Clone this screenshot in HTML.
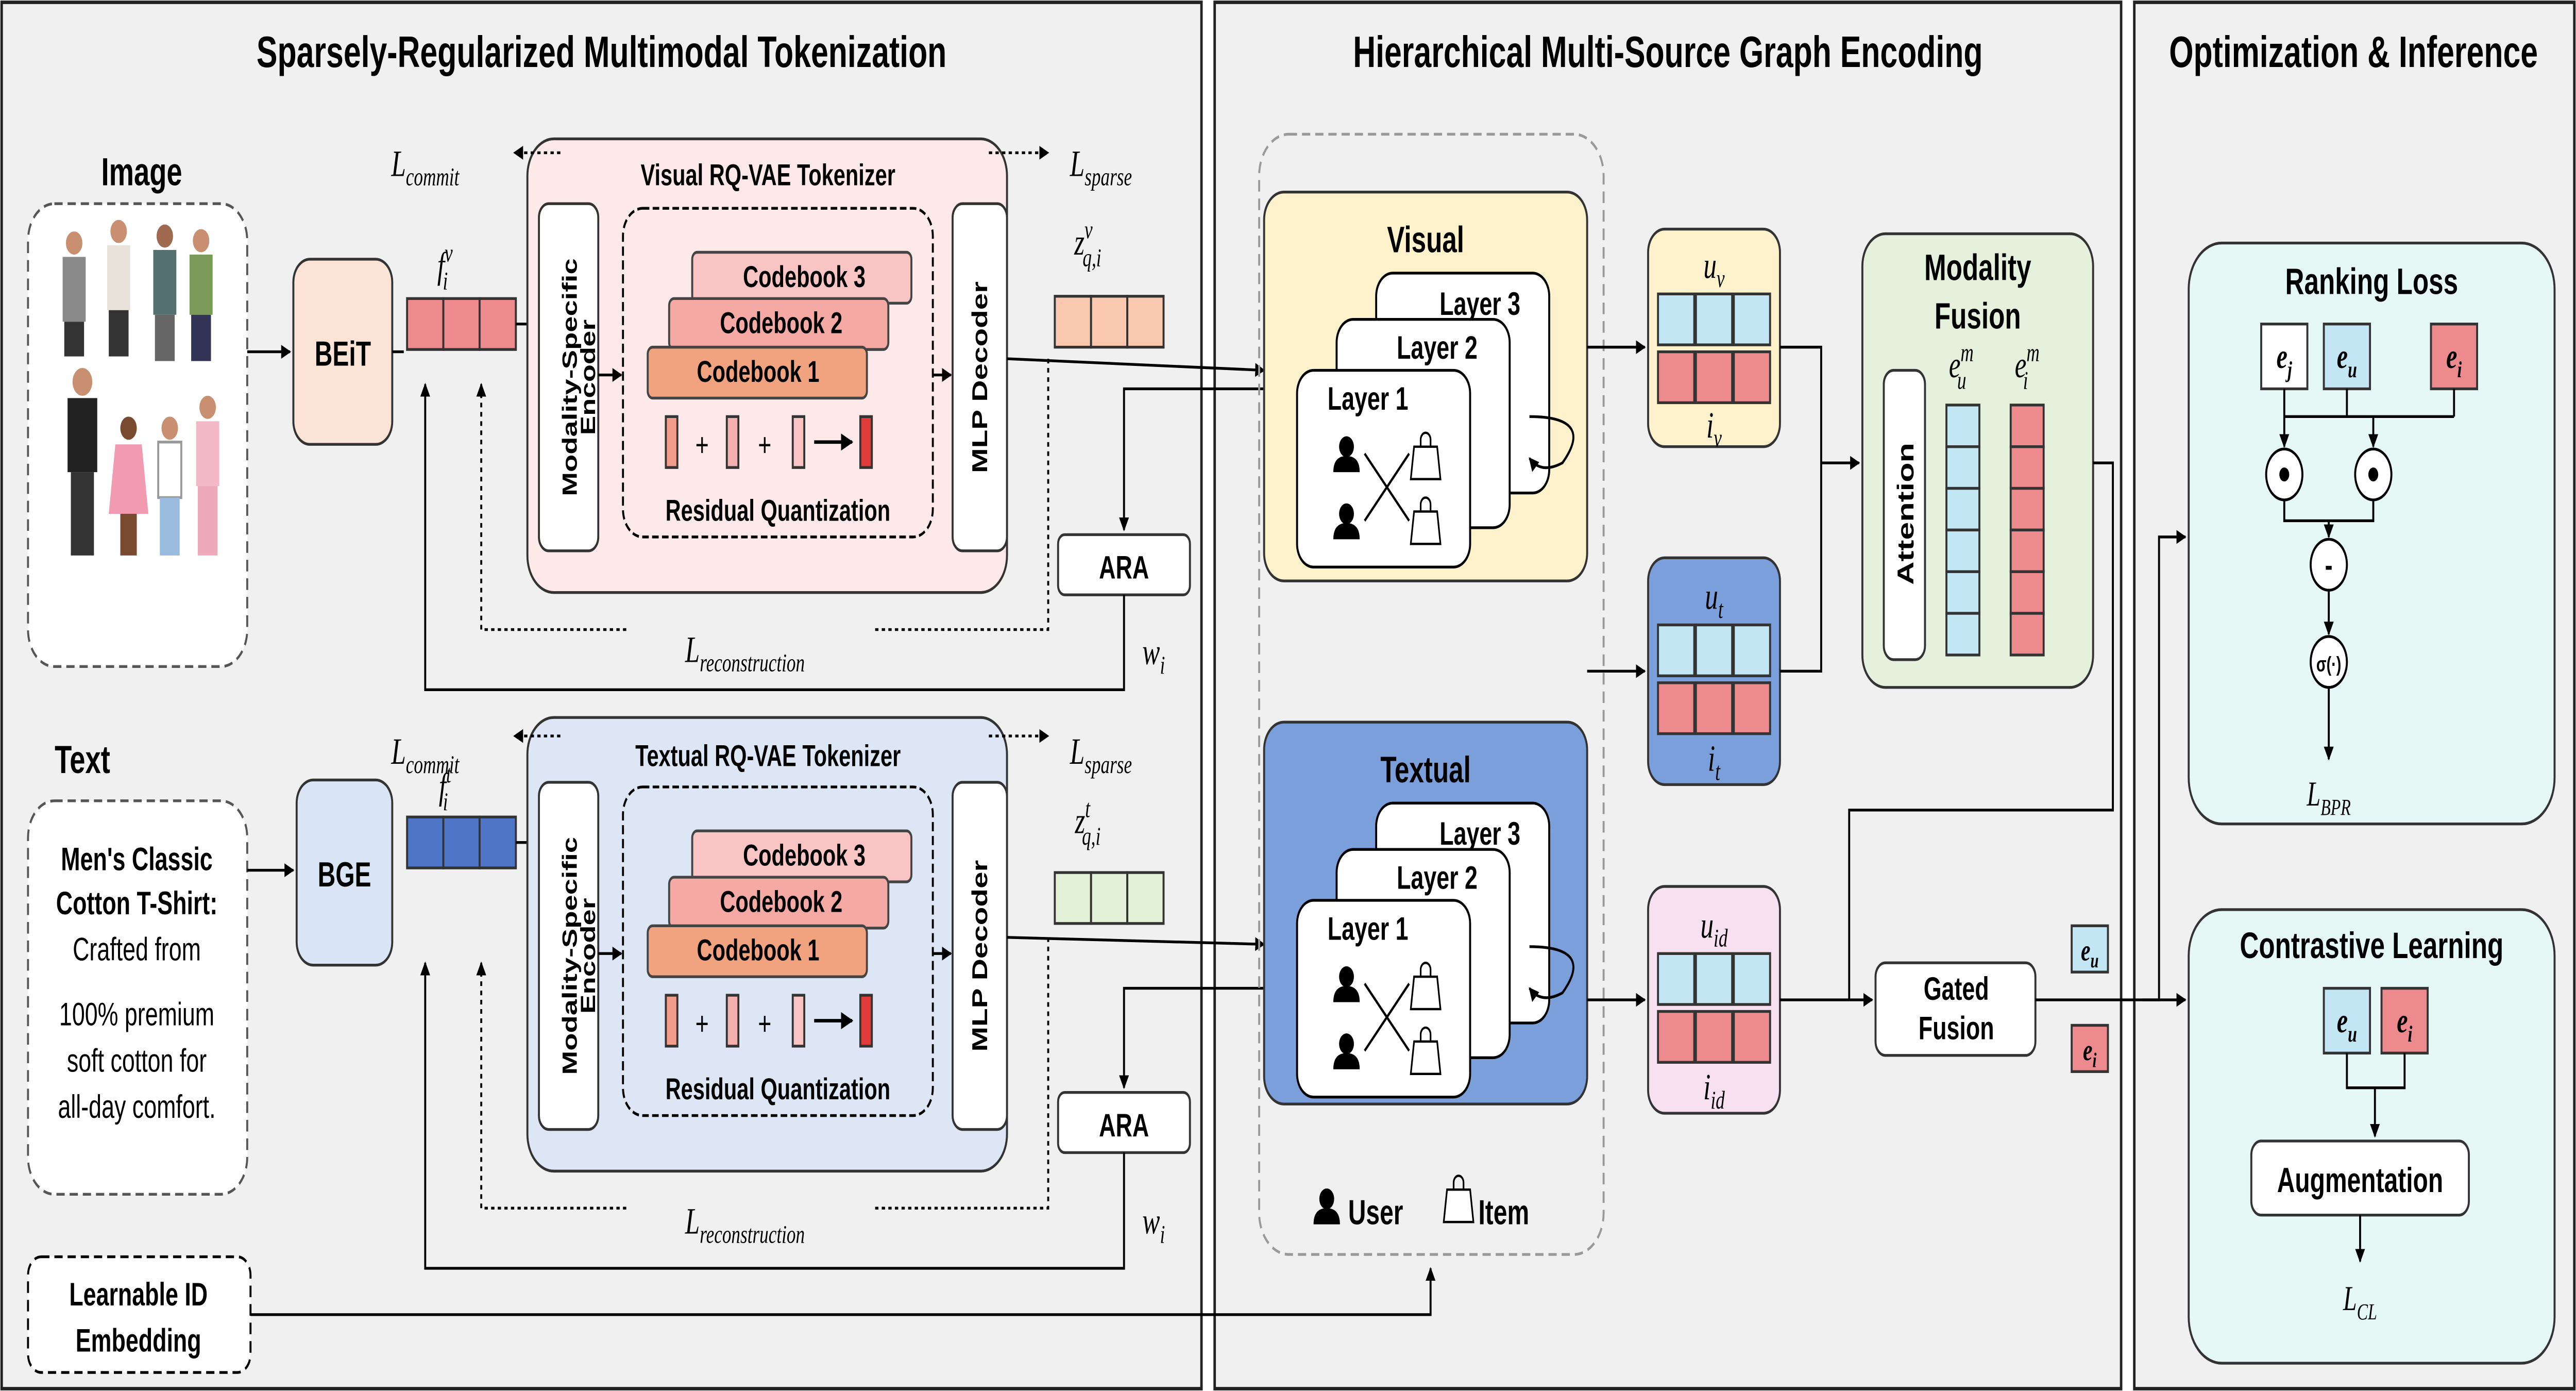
<!DOCTYPE html>
<html><head><meta charset="utf-8"><style>
html,body{margin:0;padding:0;background:#fff;width:100%;height:100%;overflow:hidden}
svg{display:block;width:100vw;height:100vh}
text{font-family:"Liberation Sans",sans-serif}
.b{font-weight:bold}
.m{font-family:"Liberation Serif",serif;font-style:italic}
</style></head><body>
<svg viewBox="0 0 1563 601" preserveAspectRatio="none" xmlns="http://www.w3.org/2000/svg">
<defs>
<marker id="a" viewBox="0 0 10 10" refX="9" refY="5" markerWidth="5" markerHeight="5" orient="auto"><path d="M0,0L10,5L0,10z" fill="#000"/></marker>
<g id="user"><circle cx="0" cy="-5" r="4.5" fill="#000"/><path d="M-8,6 Q-8,-1 0,-1 Q8,-1 8,6z" fill="#000"/></g>
<g id="bag"><path d="M-7,-4 h14 l2,14 h-18z" fill="#fff" stroke="#000" stroke-width="1"/><path d="M-3,-4 v-3 a3,3 0 0 1 6,0 v3" fill="none" stroke="#000" stroke-width="1"/></g>
</defs>
<rect x="1" y="1" width="728" height="599" fill="#f0f0f0" stroke="#222" stroke-width="1.5"/>
<rect x="737" y="1" width="550" height="599" fill="#f0f0f0" stroke="#222" stroke-width="1.5"/>
<rect x="1295" y="1" width="267" height="599" fill="#f0f0f0" stroke="#222" stroke-width="1.5"/>
<text x="365" y="29" font-size="19" class="b" text-anchor="middle">Sparsely-Regularized Multimodal Tokenization</text>
<text x="1012" y="29" font-size="19" class="b" text-anchor="middle">Hierarchical Multi-Source Graph Encoding</text>
<text x="1428" y="29" font-size="19" class="b" text-anchor="middle">Optimization &amp; Inference</text>

<g stroke-width="1.2">
<text x="86" y="80" font-size="17" class="b" text-anchor="middle">Image</text>
<rect x="17" y="88" width="133" height="200" rx="16" fill="#fff" stroke="#555" stroke-dasharray="5,3"/>
<g>
<circle cx="45" cy="105" r="5" fill="#c89070"/><rect x="38" y="111" width="14" height="28" fill="#8a8a8a"/><rect x="39" y="139" width="12" height="15" fill="#333"/>
<circle cx="72" cy="100" r="5" fill="#c89070"/><rect x="65" y="106" width="14" height="28" fill="#e7e3da"/><rect x="66" y="134" width="12" height="20" fill="#333"/>
<circle cx="100" cy="102" r="5" fill="#a06a50"/><rect x="93" y="108" width="14" height="28" fill="#557070"/><rect x="94" y="136" width="12" height="20" fill="#666"/>
<circle cx="122" cy="104" r="5" fill="#c89070"/><rect x="115" y="110" width="14" height="26" fill="#7a9a5a"/><rect x="116" y="136" width="12" height="20" fill="#335"/>
<circle cx="50" cy="165" r="6" fill="#c89070"/><rect x="41" y="172" width="18" height="32" fill="#222"/><rect x="43" y="204" width="14" height="36" fill="#333"/>
<circle cx="78" cy="185" r="5" fill="#7a4a30"/><path d="M70,192h16l4,30h-24z" fill="#f29ab0"/><rect x="73" y="222" width="10" height="18" fill="#7a4a30"/>
<circle cx="103" cy="185" r="5" fill="#c89070"/><rect x="96" y="191" width="14" height="24" fill="#fff" stroke="#999"/><rect x="97" y="215" width="12" height="25" fill="#9bd"/>
<circle cx="126" cy="176" r="5" fill="#c89070"/><rect x="119" y="182" width="14" height="28" fill="#f2b8c6"/><rect x="120" y="210" width="12" height="30" fill="#eab"/>
</g>
<rect x="178" y="112" width="60" height="80" rx="10" fill="#fbe3d6" stroke="#333"/>
<text x="208" y="158" font-size="15" class="b" text-anchor="middle">BEiT</text>
<line x1="150" y1="152" x2="176" y2="152" stroke="#000" marker-end="url(#a)"/>
<line x1="238" y1="152" x2="245" y2="152" stroke="#000"/>
<text x="270" y="120" font-size="16" class="m" text-anchor="middle">f<tspan font-size="11" dy="-7">v</tspan><tspan font-size="11" dx="-6" dy="12">i</tspan></text>
<rect x="247" y="129" width="22" height="22" fill="#ec8a8e" stroke="#333"/><rect x="269" y="129" width="22" height="22" fill="#ec8a8e" stroke="#333"/><rect x="291" y="129" width="22" height="22" fill="#ec8a8e" stroke="#333"/>
<line x1="313" y1="140" x2="325" y2="140" stroke="#000" marker-end="url(#a)"/>
<rect x="320" y="60" width="291" height="196" rx="16" fill="#fde9e9" stroke="#333"/>
<text x="466" y="80" font-size="13" class="b" text-anchor="middle">Visual RQ-VAE Tokenizer</text>
<rect x="327" y="88" width="36" height="150" rx="6" fill="#fff" stroke="#333"/>
<text transform="translate(350,163) rotate(-90)" font-size="12.5" class="b" text-anchor="middle">Modality-Specific</text>
<text transform="translate(361,163) rotate(-90)" font-size="12.5" class="b" text-anchor="middle">Encoder</text>
<rect x="378" y="90" width="188" height="142" rx="12" fill="none" stroke="#000" stroke-dasharray="4,2"/>
<line x1="363" y1="162" x2="377" y2="162" stroke="#000" marker-end="url(#a)"/>
<rect x="420" y="109" width="133" height="22" rx="3" fill="#f8c4c4" stroke="#444"/><text x="488" y="124" font-size="13" class="b" text-anchor="middle">Codebook 3</text>
<rect x="406" y="129" width="133" height="22" rx="3" fill="#f4a9a4" stroke="#444"/><text x="474" y="144" font-size="13" class="b" text-anchor="middle">Codebook 2</text>
<rect x="393" y="150" width="133" height="22" rx="3" fill="#f0a37e" stroke="#444"/><text x="460" y="165" font-size="13" class="b" text-anchor="middle">Codebook 1</text>
<rect x="404" y="180" width="7" height="22" fill="#f29c8c" stroke="#333"/><text x="426" y="197" font-size="14" text-anchor="middle">+</text>
<rect x="441" y="180" width="7" height="22" fill="#f4b0ae" stroke="#333"/><text x="464" y="197" font-size="14" text-anchor="middle">+</text>
<rect x="481" y="180" width="7" height="22" fill="#f8c4c4" stroke="#333"/>
<line x1="494" y1="191" x2="517" y2="191" stroke="#000" stroke-width="1.5" marker-end="url(#a)"/>
<rect x="522" y="180" width="7" height="22" fill="#e03a3a" stroke="#333"/>
<text x="472" y="225" font-size="13" class="b" text-anchor="middle">Residual Quantization</text>
<rect x="578" y="88" width="33" height="150" rx="6" fill="#fff" stroke="#333"/>
<text transform="translate(599,163) rotate(-90)" font-size="13" class="b" text-anchor="middle">MLP Decoder</text>
<line x1="566" y1="162" x2="577" y2="162" stroke="#000" marker-end="url(#a)"/>
<text x="258" y="76" font-size="16" class="m" text-anchor="middle">L<tspan font-size="11" dy="4">commit</tspan></text>
<line x1="340" y1="66" x2="312" y2="66" stroke="#000" stroke-dasharray="2,2" marker-end="url(#a)"/>
<line x1="600" y1="66" x2="636" y2="66" stroke="#000" stroke-dasharray="2,2" marker-end="url(#a)"/>
<text x="668" y="76" font-size="16" class="m" text-anchor="middle">L<tspan font-size="11" dy="4">sparse</tspan></text>
<line x1="611" y1="155" x2="767" y2="160" stroke="#000" marker-end="url(#a)"/>
<text x="660" y="110" font-size="16" class="m" text-anchor="middle">z<tspan font-size="11" dy="-7">v</tspan><tspan font-size="11" dx="-6" dy="12">q,i</tspan></text>
<rect x="640" y="128" width="22" height="22" fill="#f9c8ae" stroke="#333"/><rect x="662" y="128" width="22" height="22" fill="#f9c8ae" stroke="#333"/><rect x="684" y="128" width="22" height="22" fill="#f9c8ae" stroke="#333"/>
<polyline points="636,155 636,272 530,272" fill="none" stroke="#000" stroke-dasharray="2,2"/>
<polyline points="380,272 292,272 292,166" fill="none" stroke="#000" stroke-dasharray="2,2" marker-end="url(#a)"/>
<text x="452" y="286" font-size="16" class="m" text-anchor="middle">L<tspan font-size="11" dy="4">reconstruction</tspan></text>
<rect x="642" y="231" width="80" height="26" rx="4" fill="#fff" stroke="#333"/><text x="682" y="250" font-size="14" class="b" text-anchor="middle">ARA</text>
<polyline points="682,257 682,298 258,298 258,166" fill="none" stroke="#000" marker-end="url(#a)"/>
<polyline points="767,168 682,168 682,229" fill="none" stroke="#000" marker-end="url(#a)"/>
<text x="700" y="287" font-size="16" class="m" text-anchor="middle">w<tspan font-size="11" dy="4">i</tspan></text>
</g>

<g stroke-width="1.2">
<text x="50" y="334" font-size="17" class="b" text-anchor="middle">Text</text>
<rect x="17" y="346" width="133" height="170" rx="16" fill="#fff" stroke="#555" stroke-dasharray="5,3"/>
<text font-size="14" text-anchor="middle" x="83"><tspan x="83" y="376" class="b">Men's Classic</tspan><tspan x="83" y="395" class="b">Cotton T-Shirt:</tspan><tspan x="83" y="415">Crafted from</tspan><tspan x="83" y="443">100% premium</tspan><tspan x="83" y="463">soft cotton for</tspan><tspan x="83" y="483">all-day comfort.</tspan></text>
<rect x="180" y="337" width="58" height="80" rx="10" fill="#d9e5f5" stroke="#333"/>
<text x="209" y="383" font-size="15" class="b" text-anchor="middle">BGE</text>
<line x1="150" y1="376" x2="178" y2="376" stroke="#000" marker-end="url(#a)"/>
<text x="270" y="345" font-size="16" class="m" text-anchor="middle">f<tspan font-size="11" dy="-7">t</tspan><tspan font-size="11" dx="-5" dy="12">i</tspan></text>
<rect x="247" y="353" width="22" height="22" fill="#4f76c6" stroke="#333"/><rect x="269" y="353" width="22" height="22" fill="#4f76c6" stroke="#333"/><rect x="291" y="353" width="22" height="22" fill="#4f76c6" stroke="#333"/>
<line x1="313" y1="364" x2="325" y2="364" stroke="#000" marker-end="url(#a)"/>
<rect x="320" y="310" width="291" height="196" rx="16" fill="#dce6f4" stroke="#333"/>
<text x="466" y="331" font-size="13" class="b" text-anchor="middle">Textual RQ-VAE Tokenizer</text>
<rect x="327" y="338" width="36" height="150" rx="6" fill="#fff" stroke="#333"/>
<text transform="translate(350,413) rotate(-90)" font-size="12.5" class="b" text-anchor="middle">Modality-Specific</text>
<text transform="translate(361,413) rotate(-90)" font-size="12.5" class="b" text-anchor="middle">Encoder</text>
<rect x="378" y="340" width="188" height="142" rx="12" fill="none" stroke="#000" stroke-dasharray="4,2"/>
<line x1="363" y1="412" x2="377" y2="412" stroke="#000" marker-end="url(#a)"/>
<rect x="420" y="359" width="133" height="22" rx="3" fill="#f8c4c4" stroke="#444"/><text x="488" y="374" font-size="13" class="b" text-anchor="middle">Codebook 3</text>
<rect x="406" y="379" width="133" height="22" rx="3" fill="#f4a9a4" stroke="#444"/><text x="474" y="394" font-size="13" class="b" text-anchor="middle">Codebook 2</text>
<rect x="393" y="400" width="133" height="22" rx="3" fill="#f0a37e" stroke="#444"/><text x="460" y="415" font-size="13" class="b" text-anchor="middle">Codebook 1</text>
<rect x="404" y="430" width="7" height="22" fill="#f29c8c" stroke="#333"/><text x="426" y="447" font-size="14" text-anchor="middle">+</text>
<rect x="441" y="430" width="7" height="22" fill="#f4b0ae" stroke="#333"/><text x="464" y="447" font-size="14" text-anchor="middle">+</text>
<rect x="481" y="430" width="7" height="22" fill="#f8c4c4" stroke="#333"/>
<line x1="494" y1="441" x2="517" y2="441" stroke="#000" stroke-width="1.5" marker-end="url(#a)"/>
<rect x="522" y="430" width="7" height="22" fill="#e03a3a" stroke="#333"/>
<text x="472" y="475" font-size="13" class="b" text-anchor="middle">Residual Quantization</text>
<rect x="578" y="338" width="33" height="150" rx="6" fill="#fff" stroke="#333"/>
<text transform="translate(599,413) rotate(-90)" font-size="13" class="b" text-anchor="middle">MLP Decoder</text>
<line x1="566" y1="412" x2="577" y2="412" stroke="#000" marker-end="url(#a)"/>
<text x="258" y="330" font-size="16" class="m" text-anchor="middle">L<tspan font-size="11" dy="4">commit</tspan></text>
<line x1="340" y1="318" x2="312" y2="318" stroke="#000" stroke-dasharray="2,2" marker-end="url(#a)"/>
<line x1="600" y1="318" x2="636" y2="318" stroke="#000" stroke-dasharray="2,2" marker-end="url(#a)"/>
<text x="668" y="330" font-size="16" class="m" text-anchor="middle">L<tspan font-size="11" dy="4">sparse</tspan></text>
<line x1="611" y1="405" x2="767" y2="408" stroke="#000" marker-end="url(#a)"/>
<text x="660" y="360" font-size="16" class="m" text-anchor="middle">z<tspan font-size="11" dy="-7">t</tspan><tspan font-size="11" dx="-5" dy="12">q,i</tspan></text>
<rect x="640" y="377" width="22" height="22" fill="#e3f0d8" stroke="#333"/><rect x="662" y="377" width="22" height="22" fill="#e3f0d8" stroke="#333"/><rect x="684" y="377" width="22" height="22" fill="#e3f0d8" stroke="#333"/>
<polyline points="636,405 636,522 530,522" fill="none" stroke="#000" stroke-dasharray="2,2"/>
<polyline points="380,522 292,522 292,416" fill="none" stroke="#000" stroke-dasharray="2,2" marker-end="url(#a)"/>
<text x="452" y="533" font-size="16" class="m" text-anchor="middle">L<tspan font-size="11" dy="4">reconstruction</tspan></text>
<rect x="642" y="472" width="80" height="26" rx="4" fill="#fff" stroke="#333"/><text x="682" y="491" font-size="14" class="b" text-anchor="middle">ARA</text>
<polyline points="682,498 682,548 258,548 258,416" fill="none" stroke="#000" marker-end="url(#a)"/>
<polyline points="767,427 682,427 682,470" fill="none" stroke="#000" marker-end="url(#a)"/>
<text x="700" y="533" font-size="16" class="m" text-anchor="middle">w<tspan font-size="11" dy="4">i</tspan></text>
<rect x="17" y="543" width="135" height="50" rx="8" fill="#fff" stroke="#000" stroke-dasharray="5,3"/>
<text x="84" y="564" font-size="14" class="b" text-anchor="middle">Learnable ID</text>
<text x="84" y="584" font-size="14" class="b" text-anchor="middle">Embedding</text>
<polyline points="152,568 868,568 868,548" fill="none" stroke="#000" marker-end="url(#a)"/>
</g>

<g stroke-width="1.2">
<rect x="764" y="58" width="209" height="484" rx="18" fill="none" stroke="#999" stroke-dasharray="5,3"/>
<g>
<rect x="767" y="83" width="196" height="168" rx="12" fill="#fdf2cb" stroke="#333"/>
<text x="865" y="109" font-size="16" class="b" text-anchor="middle">Visual</text>
<rect x="835" y="118" width="105" height="95" rx="10" fill="#fff" stroke="#000"/><text x="898" y="136" font-size="14" class="b" text-anchor="middle">Layer 3</text>
<rect x="811" y="138" width="105" height="90" rx="10" fill="#fff" stroke="#000"/><text x="872" y="155" font-size="14" class="b" text-anchor="middle">Layer 2</text>
<rect x="787" y="160" width="105" height="85" rx="10" fill="#fff" stroke="#000"/><text x="830" y="177" font-size="14" class="b" text-anchor="middle">Layer 1</text>
<use href="#user" x="817" y="198"/><use href="#user" x="817" y="227"/><use href="#bag" x="865" y="197"/><use href="#bag" x="865" y="225"/>
<line x1="828" y1="196" x2="855" y2="225" stroke="#000"/><line x1="828" y1="225" x2="855" y2="196" stroke="#000"/>
<path d="M928,180 Q968,180 948,200 Q935,205 928,198" fill="none" stroke="#000" marker-end="url(#a)"/>
</g>
<g transform="translate(0,229)">
<rect x="767" y="83" width="196" height="165" rx="12" fill="#7b9fda" stroke="#333"/>
<text x="865" y="109" font-size="16" class="b" text-anchor="middle">Textual</text>
<rect x="835" y="118" width="105" height="95" rx="10" fill="#fff" stroke="#000"/><text x="898" y="136" font-size="14" class="b" text-anchor="middle">Layer 3</text>
<rect x="811" y="138" width="105" height="90" rx="10" fill="#fff" stroke="#000"/><text x="872" y="155" font-size="14" class="b" text-anchor="middle">Layer 2</text>
<rect x="787" y="160" width="105" height="85" rx="10" fill="#fff" stroke="#000"/><text x="830" y="177" font-size="14" class="b" text-anchor="middle">Layer 1</text>
<use href="#user" x="817" y="198"/><use href="#user" x="817" y="227"/><use href="#bag" x="865" y="197"/><use href="#bag" x="865" y="225"/>
<line x1="828" y1="196" x2="855" y2="225" stroke="#000"/><line x1="828" y1="225" x2="855" y2="196" stroke="#000"/>
<path d="M928,180 Q968,180 948,200 Q935,205 928,198" fill="none" stroke="#000" marker-end="url(#a)"/>
</g>
<use href="#user" x="805" y="523"/><text x="818" y="529" font-size="15" class="b">User</text>
<use href="#bag" x="885" y="518"/><text x="897" y="529" font-size="15" class="b">Item</text>

<line x1="963" y1="150" x2="998" y2="150" stroke="#000" marker-end="url(#a)"/>
<line x1="963" y1="290" x2="998" y2="290" stroke="#000" marker-end="url(#a)"/>
<line x1="963" y1="432" x2="998" y2="432" stroke="#000" marker-end="url(#a)"/>
<rect x="1000" y="99" width="80" height="94" rx="10" fill="#fdf2cb" stroke="#333"/>
<text x="1040" y="120" font-size="16" class="m" text-anchor="middle">u<tspan font-size="11" dy="4">v</tspan></text>
<rect x="1006" y="127" width="22" height="22" fill="#c3e6f5" stroke="#333"/><rect x="1029" y="127" width="22" height="22" fill="#c3e6f5" stroke="#333"/><rect x="1052" y="127" width="22" height="22" fill="#c3e6f5" stroke="#333"/>
<rect x="1006" y="152" width="22" height="22" fill="#ec8a8e" stroke="#333"/><rect x="1029" y="152" width="22" height="22" fill="#ec8a8e" stroke="#333"/><rect x="1052" y="152" width="22" height="22" fill="#ec8a8e" stroke="#333"/>
<text x="1040" y="189" font-size="16" class="m" text-anchor="middle">i<tspan font-size="11" dy="4">v</tspan></text>
<rect x="1000" y="241" width="80" height="98" rx="10" fill="#7b9fda" stroke="#333"/>
<text x="1040" y="263" font-size="16" class="m" text-anchor="middle">u<tspan font-size="11" dy="4">t</tspan></text>
<rect x="1006" y="270" width="22" height="22" fill="#c3e6f5" stroke="#333"/><rect x="1029" y="270" width="22" height="22" fill="#c3e6f5" stroke="#333"/><rect x="1052" y="270" width="22" height="22" fill="#c3e6f5" stroke="#333"/>
<rect x="1006" y="295" width="22" height="22" fill="#ec8a8e" stroke="#333"/><rect x="1029" y="295" width="22" height="22" fill="#ec8a8e" stroke="#333"/><rect x="1052" y="295" width="22" height="22" fill="#ec8a8e" stroke="#333"/>
<text x="1040" y="333" font-size="16" class="m" text-anchor="middle">i<tspan font-size="11" dy="4">t</tspan></text>
<rect x="1000" y="383" width="80" height="98" rx="10" fill="#f7e1f1" stroke="#333"/>
<text x="1040" y="405" font-size="16" class="m" text-anchor="middle">u<tspan font-size="11" dy="4">id</tspan></text>
<rect x="1006" y="412" width="22" height="22" fill="#c3e6f5" stroke="#333"/><rect x="1029" y="412" width="22" height="22" fill="#c3e6f5" stroke="#333"/><rect x="1052" y="412" width="22" height="22" fill="#c3e6f5" stroke="#333"/>
<rect x="1006" y="437" width="22" height="22" fill="#ec8a8e" stroke="#333"/><rect x="1029" y="437" width="22" height="22" fill="#ec8a8e" stroke="#333"/><rect x="1052" y="437" width="22" height="22" fill="#ec8a8e" stroke="#333"/>
<text x="1040" y="475" font-size="16" class="m" text-anchor="middle">i<tspan font-size="11" dy="4">id</tspan></text>
<polyline points="1080,150 1105,150 1105,290 1080,290" fill="none" stroke="#000"/>
<line x1="1105" y1="200" x2="1128" y2="200" stroke="#000" marker-end="url(#a)"/>
<line x1="1080" y1="432" x2="1136" y2="432" stroke="#000" marker-end="url(#a)"/>
<rect x="1130" y="101" width="140" height="196" rx="14" fill="#e5f1dc" stroke="#333"/>
<text x="1200" y="121" font-size="16" class="b" text-anchor="middle">Modality</text>
<text x="1200" y="142" font-size="16" class="b" text-anchor="middle">Fusion</text>
<rect x="1143" y="160" width="25" height="125" rx="6" fill="#fff" stroke="#333"/>
<text transform="translate(1161,222) rotate(-90)" font-size="14" class="b" text-anchor="middle">Attention</text>
<text x="1190" y="163" font-size="16" class="m" text-anchor="middle">e<tspan font-size="11" dy="-7">m</tspan><tspan font-size="11" dx="-10" dy="12">u</tspan></text>
<text x="1230" y="163" font-size="16" class="m" text-anchor="middle">e<tspan font-size="11" dy="-7">m</tspan><tspan font-size="11" dx="-10" dy="12">i</tspan></text>
<g fill="#c3e6f5" stroke="#333">
<rect x="1181" y="175" width="20" height="18"/><rect x="1181" y="193" width="20" height="18"/><rect x="1181" y="211" width="20" height="18"/><rect x="1181" y="229" width="20" height="18"/><rect x="1181" y="247" width="20" height="18"/><rect x="1181" y="265" width="20" height="18"/></g>
<g fill="#ec8a8e" stroke="#333">
<rect x="1220" y="175" width="20" height="18"/><rect x="1220" y="193" width="20" height="18"/><rect x="1220" y="211" width="20" height="18"/><rect x="1220" y="229" width="20" height="18"/><rect x="1220" y="247" width="20" height="18"/><rect x="1220" y="265" width="20" height="18"/></g>
<polyline points="1270,200 1282,200 1282,350 1122,350 1122,432" fill="none" stroke="#000"/>
<rect x="1138" y="416" width="97" height="40" rx="6" fill="#fff" stroke="#333"/>
<text x="1187" y="432" font-size="14" class="b" text-anchor="middle">Gated</text>
<text x="1187" y="449" font-size="14" class="b" text-anchor="middle">Fusion</text>
<line x1="1235" y1="432" x2="1326" y2="432" stroke="#000" marker-end="url(#a)"/>
<rect x="1257" y="400" width="22" height="20" fill="#c3e6f5" stroke="#333"/><text x="1268" y="415" font-size="13" class="m b" text-anchor="middle">e<tspan font-size="9" dy="3">u</tspan></text>
<rect x="1257" y="443" width="22" height="20" fill="#ec8a8e" stroke="#333"/><text x="1268" y="458" font-size="13" class="m b" text-anchor="middle">e<tspan font-size="9" dy="3">i</tspan></text>
<polyline points="1300,432 1310,432 1310,232 1326,232" fill="none" stroke="#000" marker-end="url(#a)"/>
</g>

<g stroke-width="1.2">
<rect x="1328" y="105" width="222" height="251" rx="20" fill="#e5f8f6" stroke="#333"/>
<text x="1439" y="127" font-size="16" class="b" text-anchor="middle">Ranking Loss</text>
<rect x="1372" y="140" width="28" height="28" fill="#fff" stroke="#333"/><text x="1386" y="159" font-size="15" class="m b" text-anchor="middle">e<tspan font-size="10" dy="4">j</tspan></text>
<rect x="1410" y="140" width="28" height="28" fill="#c3e6f5" stroke="#333"/><text x="1424" y="159" font-size="15" class="m b" text-anchor="middle">e<tspan font-size="10" dy="4">u</tspan></text>
<rect x="1475" y="140" width="28" height="28" fill="#ec8a8e" stroke="#333"/><text x="1489" y="159" font-size="15" class="m b" text-anchor="middle">e<tspan font-size="10" dy="4">i</tspan></text>
<line x1="1386" y1="168" x2="1386" y2="180" stroke="#000"/><line x1="1489" y1="168" x2="1489" y2="180" stroke="#000"/><line x1="1424" y1="168" x2="1424" y2="180" stroke="#000"/>
<polyline points="1386,180 1489,180" fill="none" stroke="#000"/>
<line x1="1386" y1="180" x2="1386" y2="193" stroke="#000" marker-end="url(#a)"/>
<line x1="1440" y1="180" x2="1440" y2="193" stroke="#000" marker-end="url(#a)"/>
<circle cx="1386" cy="205" r="11" fill="#fff" stroke="#000"/><circle cx="1386" cy="205" r="3" fill="#000"/>
<circle cx="1440" cy="205" r="11" fill="#fff" stroke="#000"/><circle cx="1440" cy="205" r="3" fill="#000"/>
<polyline points="1386,216 1386,225 1440,225 1440,216" fill="none" stroke="#000"/>
<line x1="1413" y1="225" x2="1413" y2="232" stroke="#000" marker-end="url(#a)"/>
<circle cx="1413" cy="244" r="11" fill="#fff" stroke="#000"/><text x="1413" y="249" font-size="14" class="b" text-anchor="middle">-</text>
<line x1="1413" y1="255" x2="1413" y2="274" stroke="#000" marker-end="url(#a)"/>
<circle cx="1413" cy="286" r="11" fill="#fff" stroke="#000"/><text x="1413" y="290" font-size="9" class="b" text-anchor="middle">σ(·)</text>
<line x1="1413" y1="297" x2="1413" y2="328" stroke="#000" marker-end="url(#a)"/>
<text x="1413" y="348" font-size="15" class="m" text-anchor="middle">L<tspan font-size="10" dy="4">BPR</tspan></text>

<rect x="1328" y="393" width="222" height="196" rx="20" fill="#e5f8f6" stroke="#333"/>
<text x="1439" y="414" font-size="16" class="b" text-anchor="middle">Contrastive Learning</text>
<rect x="1410" y="427" width="28" height="28" fill="#c3e6f5" stroke="#333"/><text x="1424" y="446" font-size="15" class="m b" text-anchor="middle">e<tspan font-size="10" dy="4">u</tspan></text>
<rect x="1445" y="427" width="28" height="28" fill="#ec8a8e" stroke="#333"/><text x="1459" y="446" font-size="15" class="m b" text-anchor="middle">e<tspan font-size="10" dy="4">i</tspan></text>
<polyline points="1424,455 1424,470 1459,470 1459,455" fill="none" stroke="#000"/>
<line x1="1441" y1="470" x2="1441" y2="491" stroke="#000" marker-end="url(#a)"/>
<rect x="1366" y="493" width="132" height="32" rx="6" fill="#fff" stroke="#333"/>
<text x="1432" y="515" font-size="15" class="b" text-anchor="middle">Augmentation</text>
<line x1="1432" y1="525" x2="1432" y2="545" stroke="#000" marker-end="url(#a)"/>
<text x="1432" y="566" font-size="15" class="m" text-anchor="middle">L<tspan font-size="10" dy="4">CL</tspan></text>
</g>
</svg>
</body></html>
